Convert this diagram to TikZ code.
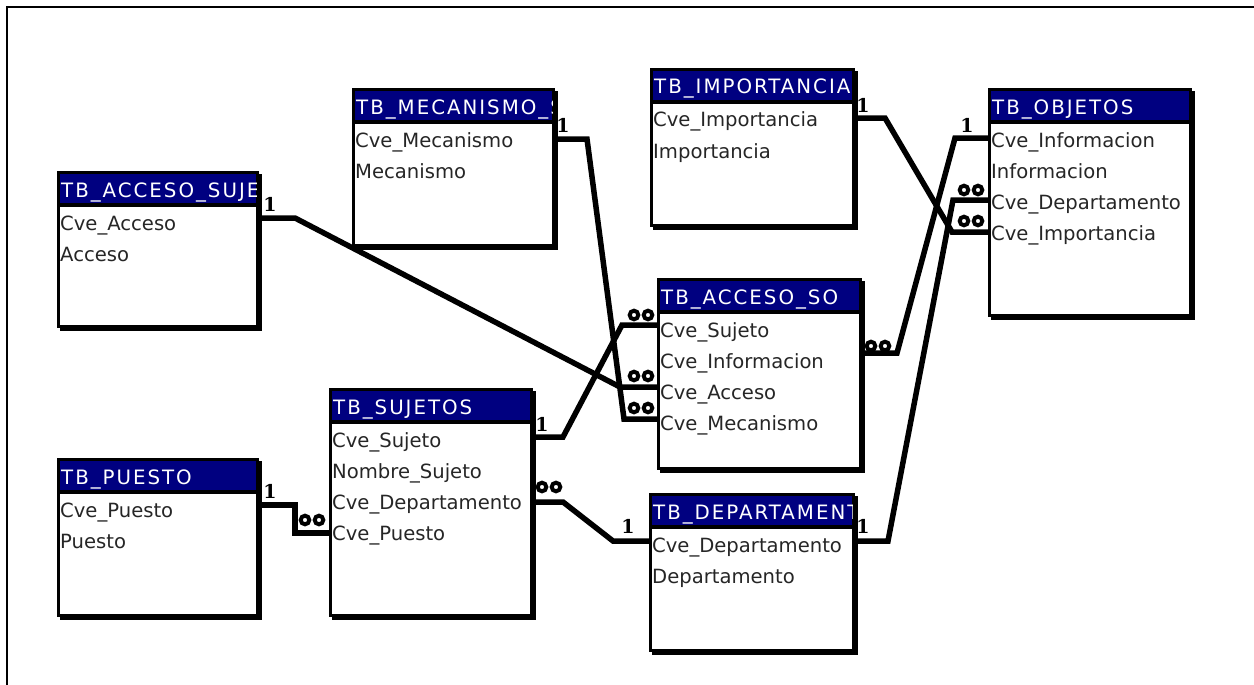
\documentclass[tikz,border=0pt]{standalone}
\usepackage{fontspec}
\newfontfamily\rowfont{DejaVu Sans}
\newfontfamily\titlefont{DejaVu Sans}[LetterSpace=10]
\newfontfamily\onefont{DejaVu Serif}
\definecolor{hdr}{RGB}{0,0,128}
\tikzset{
  conn/.style={line width=5.5pt, line join=miter, black},
  rowtxt/.style={anchor=base west, inner sep=0pt, font=\rowfont\fontsize{19.6}{22}\selectfont, text=black!85},
  ttltxt/.style={anchor=base west, inner sep=0pt, font=\titlefont\fontsize{19.8}{22}\selectfont, text=white},
  one/.style={inner sep=0pt, font=\onefont\bfseries\fontsize{19}{19}\selectfont},
  tblbox/.style={draw, line width=3.2pt, fill=white, anchor=north west, inner sep=0pt, outer sep=0pt},
  frame/.style={line width=2pt}
}
% name, x1, y1, x2, y2, title, rows
\newcommand\dbtable[7]{%
  \fill (#2+3,#3+3) rectangle (#4+2.5,#5+3);
  \node[tblbox, minimum width=#4-#2-3, minimum height=#5-#3-3] (#1) at (#2+1.5,#3+1.5) {};
  \fill[hdr] (#2+3,#3+3) rectangle (#4-3,#3+32);
  \draw[line width=4pt] (#2,#3+34) -- (#4,#3+34);
  \begin{scope}
    \clip (#2+3,#3+3) rectangle (#4-3,#3+32);
    \node[ttltxt] (#1-t) at (#2+4,#3+26) {#6};
  \end{scope}
  \foreach \r [count=\i] in {#7} {\node[rowtxt] (#1-r\i) at (#2+3,#3+28+31*\i) {\r};}
}
% many-mark: name, x, y
\newcommand\manymark[3]{%
  \coordinate (#1) at (#2,#3);
  \draw[line width=4pt] ([xshift=-7pt]#1) circle[radius=4.3] ([xshift=7pt]#1) circle[radius=4.3];
}
\begin{document}
\begin{tikzpicture}[x=1pt,y=-1pt]
\useasboundingbox (0,0) rectangle (1254,685);
\draw[frame] (7,685) -- (7,7) -- (1254,7);

% connector end points
\coordinate (asuj-acc) at (259,218);
\coordinate (aso-acc) at (657,387);
\coordinate (mec-mec) at (555,139);
\coordinate (aso-mec) at (657,419);
\coordinate (suj-suj) at (533,437);
\coordinate (aso-suj) at (657,325);
\coordinate (suj-dep) at (533,502);
\coordinate (dep-dep) at (649,541);
\coordinate (pue-pue) at (259,505);
\coordinate (suj-pue) at (329,533);
\coordinate (dep-r) at (855,541);
\coordinate (obj-dep) at (988,200);
\coordinate (imp-imp) at (855,118);
\coordinate (obj-imp) at (988,232);
\coordinate (aso-inf) at (862,353);
\coordinate (obj-inf) at (988,138);

\draw[conn] (asuj-acc) -- ++(36,0) -- (620,387) -- (aso-acc);
\draw[conn] (mec-mec) -- ++(32,0) -- (624,419) -- (aso-mec);
\draw[conn] (suj-suj) -- ++(30,0) -- (622,325) -- (aso-suj);
\draw[conn] (suj-dep) -- ++(30,0) -- (613,541) -- (dep-dep);
\draw[conn] (pue-pue) -- ++(36,0) -- (295,533) -- (suj-pue);
\draw[conn] (dep-r) -- ++(33,0) -- (953,200) -- (obj-dep);
\draw[conn] (imp-imp) -- ++(30,0) -- (952,232) -- (obj-imp);
\draw[conn] (aso-inf) -- ++(35,0) -- (955,138) -- (obj-inf);

\dbtable{ASUJ}{57}{171}{259}{328}{TB\_ACCESO\_SUJE}{Cve\_Acceso, Acceso}
\dbtable{MEC}{352}{88}{555}{247}{TB\_MECANISMO\_S}{Cve\_Mecanismo, Mecanismo}
\dbtable{IMP}{650}{68}{855}{227}{TB\_IMPORTANCIA}{Cve\_Importancia, Importancia}
\dbtable{OBJ}{988}{88}{1192}{317}{TB\_OBJETOS}{Cve\_Informacion, Informacion, Cve\_Departamento, Cve\_Importancia}
\dbtable{ASO}{657}{278}{862}{470}{TB\_ACCESO\_SO}{Cve\_Sujeto, Cve\_Informacion, Cve\_Acceso, Cve\_Mecanismo}
\dbtable{SUJ}{329}{388}{533}{617}{TB\_SUJETOS}{Cve\_Sujeto, Nombre\_Sujeto, Cve\_Departamento, Cve\_Puesto}
\dbtable{PUE}{57}{458}{259}{617}{TB\_PUESTO}{Cve\_Puesto, Puesto}
\dbtable{DEP}{649}{493}{855}{652}{TB\_DEPARTAMENT}{Cve\_Departamento, Departamento}

% cardinality "1"
\node[one] (o1) at (270,204) {1};
\node[one] (o2) at (563,125) {1};
\node[one] (o3) at (863,105) {1};
\node[one] (o4) at (967,125) {1};
\node[one] (o5) at (542,424) {1};
\node[one] (o6) at (270,491) {1};
\node[one] (o7) at (628,526) {1};
\node[one] (o8) at (863,526) {1};

% cardinality "many"
\manymark{m1}{641}{315}
\manymark{m2}{641}{376}
\manymark{m3}{641}{408}
\manymark{m4}{878}{346}
\manymark{m5}{971}{190}
\manymark{m6}{971}{221}
\manymark{m7}{549}{487}
\manymark{m8}{312}{520}
\end{tikzpicture}
\end{document}
